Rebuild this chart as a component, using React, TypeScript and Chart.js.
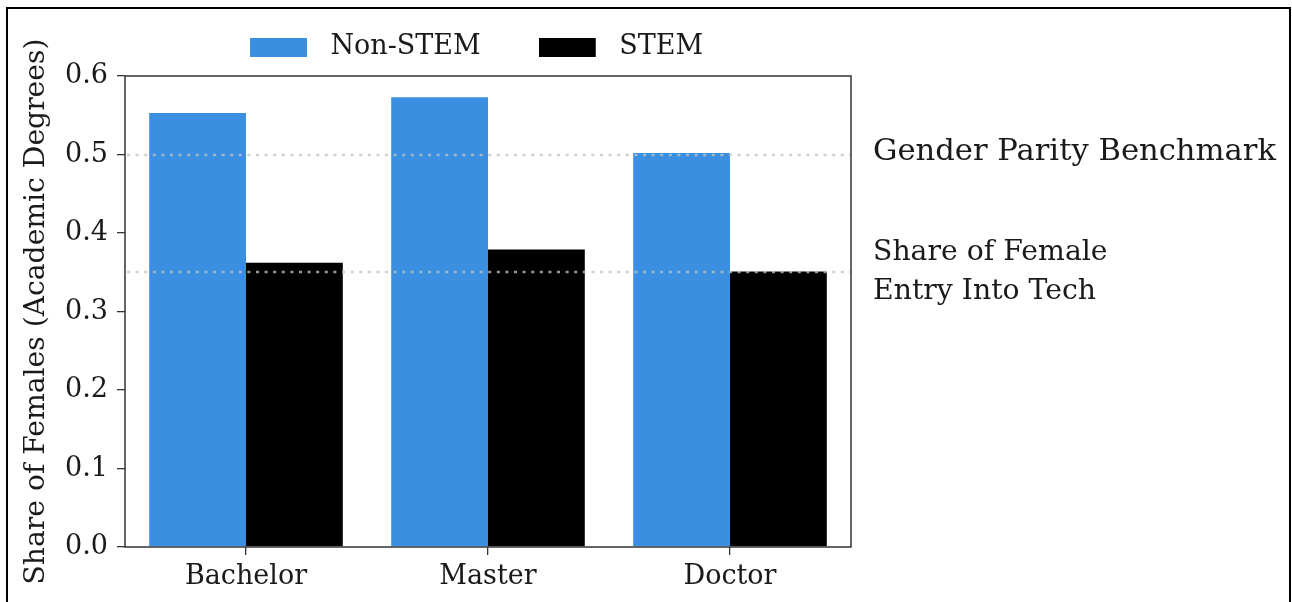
import React, { useEffect, useRef } from "react";
import { Chart, registerables } from "chart.js";

Chart.register(...registerables);

// ---- data ----
const categories = ["Bachelor", "Master", "Doctor"];
const seriesLabels = ["Non-STEM", "STEM"];
const nonStemShare = [0.553, 0.573, 0.502];
const stemShare = [0.362, 0.379, 0.351];
const yMin = 0;
const yMax = 0.6;
const yStep = 0.1;
const referenceValues = [0.5, 0.35];
const referenceLabels = [["Gender Parity Benchmark"], ["Share of Female", "Entry Into Tech"]];
const yAxisTitle = "Share of Females (Academic Degrees)";

// ---- style ----
const FAMILY = "'DejaVu Serif', serif";
const FONT_SIZE = 27;
const TITLE_SIZE = 28.2;
const NOTE_SIZES = [30.6, 28.3];
const BLUE = "#3a8fe0";
const BLACK = "#000000";
const INK = "#1a1a1a";
const AXIS = "#333333";
const LEGEND_PAD = 58;
const LEGEND_ITEM_TOP = 33.5;
const SWATCH_W = 57;
const SWATCH_H = 19;
const SWATCH_SLOT = 67;

function makeSwatch(color: string) {
  const c = document.createElement("canvas");
  c.width = SWATCH_SLOT;
  c.height = SWATCH_H;
  const g = c.getContext("2d")!;
  g.fillStyle = color;
  g.fillRect(0, 0, SWATCH_W, SWATCH_H);
  return c;
}

const decorPlugin = {
  id: "decor",
  afterLayout(chart: any) {
    const lg = chart.legend;
    if (lg) {
      const h = lg.height;
      lg.top = LEGEND_ITEM_TOP - LEGEND_PAD;
      lg.bottom = lg.top + h;
      lg.left = 102;
      lg.right = 851;
    }
  },
  afterDatasetsDraw(chart: any) {
    const { ctx, chartArea: a, scales } = chart;
    const y = scales.y;
    ctx.save();
    // reference dotted lines
    ctx.strokeStyle = "rgba(195,195,195,0.78)";
    ctx.lineWidth = 2.6;
    ctx.setLineDash([3, 5.6]);
    referenceValues.forEach((v) => {
      const py = Math.round(y.getPixelForValue(v));
      ctx.beginPath();
      ctx.moveTo(a.left + 2, py);
      ctx.lineTo(a.right, py);
      ctx.stroke();
    });
    ctx.setLineDash([]);
    // plot frame
    ctx.strokeStyle = AXIS;
    ctx.lineWidth = 1.5;
    ctx.strokeRect(a.left, a.top, a.right - a.left, a.bottom - a.top);
    // reference annotations
    ctx.fillStyle = INK;
    ctx.textAlign = "left";
    ctx.textBaseline = "middle";
    referenceValues.forEach((v, i) => {
      const lines = referenceLabels[i];
      ctx.font = `${NOTE_SIZES[i]}px ${FAMILY}`;
      const py = y.getPixelForValue(v);
      const shift = lines.length === 1 ? -2.5 : 0;
      lines.forEach((t, j) => {
        ctx.fillText(t, a.right + 22, py + shift + (j - (lines.length - 1) / 2) * 39);
      });
    });
    // y axis title
    ctx.font = `${TITLE_SIZE}px ${FAMILY}`;
    ctx.translate(37, (a.top + a.bottom) / 2);
    ctx.rotate(-Math.PI / 2);
    ctx.textAlign = "center";
    ctx.fillText(yAxisTitle, 0, 0);
    ctx.restore();
  },
};

export default function App() {
  const ref = useRef<HTMLCanvasElement | null>(null);

  useEffect(() => {
    if (!ref.current) return;
    const font = { family: FAMILY, size: FONT_SIZE };
    const tickGrid = {
      display: true,
      drawOnChartArea: false,
      drawTicks: true,
      tickLength: 8,
      offset: false,
      color: AXIS,
      lineWidth: 1.3,
    };
    const chart = new Chart(ref.current, {
      type: "bar",
      data: {
        labels: categories,
        datasets: [
          {
            label: seriesLabels[0],
            data: nonStemShare,
            backgroundColor: BLUE,
            borderWidth: 0,
            pointStyle: makeSwatch(BLUE),
            categoryPercentage: 0.8,
            barPercentage: 1.0,
          } as any,
          {
            label: seriesLabels[1],
            data: stemShare,
            backgroundColor: BLACK,
            borderWidth: 0,
            pointStyle: makeSwatch(BLACK),
            categoryPercentage: 0.8,
            barPercentage: 1.0,
          } as any,
        ],
      },
      options: {
        animation: false,
        responsive: false,
        devicePixelRatio: 1,
        layout: {
          padding: { left: 0, right: 441, top: 39 - LEGEND_PAD, bottom: 0 },
        },
        plugins: {
          legend: {
            position: "top",
            labels: {
              usePointStyle: true,
              pointStyleWidth: SWATCH_SLOT,
              boxHeight: SWATCH_H,
              padding: LEGEND_PAD,
              color: INK,
              font,
            },
          },
          tooltip: { enabled: false },
        },
        scales: {
          x: {
            type: "category",
            grid: tickGrid as any,
            border: { display: false },
            ticks: { padding: 6, font, color: INK },
            afterFit: (s: any) => {
              s.height = 55;
            },
          },
          y: {
            min: yMin,
            max: yMax,
            grid: tickGrid as any,
            border: { display: false },
            ticks: {
              stepSize: yStep,
              padding: 9,
              font,
              color: INK,
              callback: (v: any) => Number(v).toFixed(1),
            },
            afterFit: (s: any) => {
              s.width = 125;
            },
          },
        },
      } as any,
      plugins: [decorPlugin],
    });
    return () => chart.destroy();
  }, []);

  return (
    <div style={{ position: "fixed", left: 0, top: 0, width: 1292, height: 602, background: "#fff" }}>
      <canvas ref={ref} width={1292} height={602} style={{ position: "absolute", left: 0, top: 0, display: "block" }} />
      <div
        style={{
          position: "absolute",
          left: 6,
          top: 7,
          width: 1285,
          height: 640,
          border: "2px solid #000",
          boxSizing: "border-box",
          pointerEvents: "none",
        }}
      />
    </div>
  );
}
